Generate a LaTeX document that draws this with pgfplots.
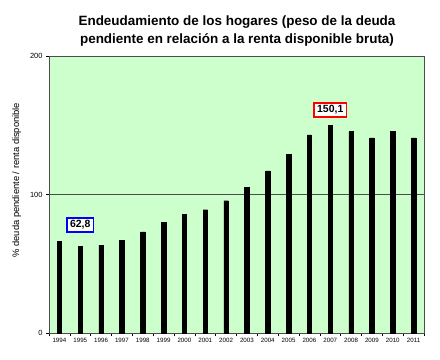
\documentclass[border=0pt]{standalone}
\usepackage{pgfplots}
\pgfplotsset{compat=1.18}
\usepackage{fontspec}
\setmainfont{Liberation Sans}
\definecolor{bgg}{HTML}{CCFFCC}
\begin{document}
\begin{tikzpicture}[x=1bp,y=1bp]
\useasboundingbox (0,0) rectangle (440,359);
\fill[white] (0,0) rectangle (440,359);
\node[font=\fontsize{13.5}{18}\selectfont\bfseries, align=center] at (237,328) {Endeudamiento de los hogares (peso de la deuda\\pendiente en relación a la renta disponible bruta)};
\begin{axis}[
  at={(49bp,26bp)}, anchor=south west,
  scale only axis, width=375bp, height=277bp,
  xmin=-0.5, xmax=17.5, ymin=0, ymax=200,
  axis background/.style={fill=bgg},
  axis line style={gray!60!black, line width=0.6pt},
  xtick={0,...,17},
  xticklabels={1994,1995,1996,1997,1998,1999,2000,2001,2002,2003,2004,2005,2006,2007,2008,2009,2010,2011},
  major x tick style={draw=none},
  minor xtick={-0.5,0.5,...,17.5},
  minor tick length=3bp,
  minor x tick style={black, line width=0.4pt},
  ytick={0,100,200},
  major tick length=3bp,
  y tick style={black, line width=0.4pt},
  tick align=outside, tick pos=left,
  extra y ticks={100}, extra y tick labels={},
  extra y tick style={grid=major, major grid style={gray!60!black, line width=0.6pt}, major tick length=0pt},
  /pgf/number format/assume math mode=true,
  x tick label style={font=\fontsize{6.2}{7}\selectfont, yshift=1bp},
  y tick label style={font=\fontsize{7.5}{8}\selectfont},
  ylabel={\% deuda pendiente / renta disponible},
  ylabel style={font=\fontsize{9.4}{10}\selectfont, at={(axis description cs:-0.065,0.552)}, anchor=south},
  clip=false,
]
\addplot[ybar, bar width=4.5bp, fill=black, draw=black] coordinates {
(0,66.4) (1,62.8) (2,63.5) (3,67.1) (4,73.1) (5,80.1) (6,85.9) (7,89.0) (8,95.5)
(9,105.2) (10,117.0) (11,129.2) (12,143.0) (13,150.1) (14,145.4) (15,140.8) (16,145.4) (17,140.8)
};
\node[draw=blue, line width=1.6bp, fill=white, font=\fontsize{10.5}{11}\selectfont\bfseries, inner xsep=3bp, inner ysep=2.6bp] at (axis cs:1,78) {62,8};
\node[draw=red, line width=1.6bp, fill=white, font=\fontsize{10.5}{11}\selectfont\bfseries, inner xsep=3bp, inner ysep=2.6bp] at (axis cs:13,161) {150,1};
\end{axis}
\end{tikzpicture}
\end{document}
